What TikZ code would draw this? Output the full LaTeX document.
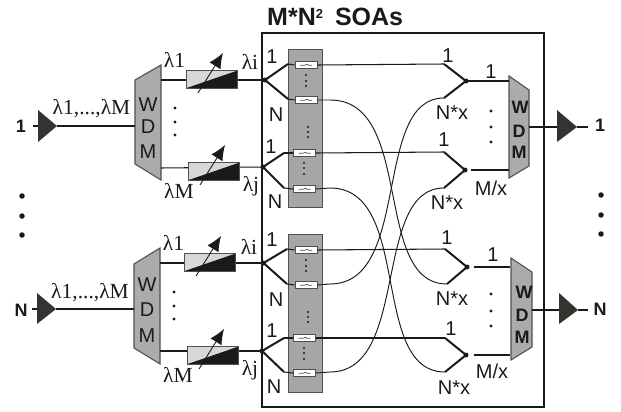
\documentclass[tikz,border=0pt]{standalone}
\usepackage{fontspec}
\setmainfont{Liberation Sans}
\newfontfamily\serifgr{Liberation Serif}
\definecolor{panelgray}{HTML}{A6A6A6}
\definecolor{wdmgray}{HTML}{ABABAB}
\definecolor{edgegray}{HTML}{505050}
\definecolor{ampdark}{HTML}{333330}
\definecolor{soalight}{HTML}{D8D8D8}
\definecolor{inkblack}{HTML}{1A1A1A}
\newcommand{\lam}[1]{{\serifgr\fontsize{21.5}{21.5}\selectfont λ#1}}
\newcommand{\soaunit}[4]{% name, x left, y top, y line
  \node[soabox,anchor=north west] (#1) at (#2,#3) {};
  \draw[tunearrow] (#2+12,#3+23) -- (#2+37,#3-17);
}
\usetikzlibrary{arrows.meta}
\tikzset{
  lbl/.style={inner sep=0pt,font=\fontsize{20}{20}\selectfont,text=inkblack},
  boldlbl/.style={inner sep=0pt,font=\fontsize{18}{18}\selectfont\bfseries,text=inkblack},
  wdmtxt/.style={inner sep=0pt,font=\fontsize{20}{20}\selectfont,text=inkblack},
  wdmbold/.style={inner sep=0pt,font=\fontsize{18}{18}\selectfont\bfseries,text=inkblack},
  panel/.style={fill=panelgray,draw=edgegray,line width=0.9pt},
  wdm/.style={fill=wdmgray,draw=edgegray,line width=1.1pt},
  amp/.style={fill=ampdark},
  thin line/.style={line width=1.05pt,draw=inkblack},
  thick line/.style={line width=2.2pt,draw=inkblack},
  branch/.style={line width=2pt,draw=inkblack},
  cross/.style={line width=0.95pt,draw=inkblack},
  soabox/.style={draw=edgegray,line width=1.1pt,minimum width=51pt,minimum height=17.5pt,inner sep=0pt,fill=soalight,
    path picture={\fill[inkblack] (path picture bounding box.south west)--(path picture bounding box.north east)--(path picture bounding box.south east)--cycle;}},
  tunearrow/.style={line width=0.9pt,draw=inkblack,-{Latex[length=15pt,width=13pt]}},
  swbox/.style={draw=edgegray,line width=1pt,fill=white,minimum width=22pt,minimum height=7pt,inner sep=0pt,
    path picture={\draw[line width=0.7pt,shift={(path picture bounding box.center)}] (-6,0.3)--(-1.5,0.3)--(1,-0.8)--(2.5,0.3)--(6,0.3);}},
  dotm/.style={circle,fill=inkblack,inner sep=0pt,minimum size=3.2pt},
  dots/.style={circle,fill=inkblack,inner sep=0pt,minimum size=2.4pt},
  dotb/.style={circle,fill=inkblack,inner sep=0pt,minimum size=5.5pt},
  hub/.style={circle,fill=inkblack,inner sep=0pt,minimum size=5pt},
}
\begin{document}
\begin{tikzpicture}[x=1pt,y=-1pt]
\useasboundingbox (0,0) rectangle (621,412);
% main box
\draw[line width=1.2pt,draw=inkblack] (262,33) rectangle (544,407);
\node[inner sep=0pt,anchor=base west,font=\fontsize{25}{25}\selectfont\bfseries,text=inkblack] (title) at (267,26) {M*N\raisebox{7pt}{\fontsize{13}{13}\selectfont 2}\hspace{12pt}SOAs};
% panels
\draw[panel] (288,49) rectangle (322,207);
\draw[panel] (288,234) rectangle (322,392);
% WDM left
\draw[wdm] (135,80)--(161,65)--(161,180)--(135,164)--cycle;
\draw[wdm] (134,264)--(160,248)--(160,364)--(134,348)--cycle;
% WDM right
\draw[wdm] (509,76)--(529,90)--(529,166)--(509,178)--cycle;
\draw[wdm] (511,258)--(532,272)--(532,347)--(511,360)--cycle;
\node[wdmtxt] (wa1) at (148,105) {W};\node[wdmtxt] (wa2) at (148,127) {D};\node[wdmtxt] (wa3) at (148,152) {M};
\node[wdmtxt] (wb1) at (147,285) {W};\node[wdmtxt] (wb2) at (147,310) {D};\node[wdmtxt] (wb3) at (147,336) {M};
\node[wdmbold] (wc1) at (520,107) {W};\node[wdmbold] (wc2) at (519,131) {D};\node[wdmbold] (wc3) at (519,152) {M};
\node[wdmbold] (wd1) at (524,292) {W};\node[wdmbold] (wd2) at (522,315) {D};\node[wdmbold] (wd3) at (522,337) {M};
% named points: WDM ports
\coordinate (wlA) at (135,126);\coordinate (wlB) at (134,309);
\coordinate (wrA) at (529,127);\coordinate (wrB) at (532,310);
\coordinate (oa1) at (161,80);\coordinate (oa2) at (161,168);
\coordinate (ob1) at (160,263);\coordinate (ob2) at (160,351);
% amplifiers
\coordinate (ia) at (33,126);\coordinate (ta) at (38,126);\coordinate (pa) at (57,126);
\coordinate (ib) at (32,309);\coordinate (tb) at (37,309);\coordinate (pb) at (56,309);
\coordinate (tc) at (557,127);\coordinate (pc) at (577,127);\coordinate (ec) at (588,127);
\coordinate (td) at (559,310);\coordinate (pd) at (578,310);\coordinate (ed) at (588,310);
\draw[line width=1.4pt,draw=inkblack] (ia)--(ta);\draw[line width=1.4pt,draw=inkblack] (ib)--(tb);
\draw[line width=1.4pt,draw=inkblack] (pc)--(ec);\draw[line width=1.4pt,draw=inkblack] (pd)--(ed);
\draw[thick line] (pa)--(wlA);\draw[thick line] (pb)--(wlB);
\draw[thick line] (wrA)--(tc);\draw[thick line] (wrB)--(td);
\fill[amp] (38,110)--(57,126)--(38,142)--cycle;
\fill[amp] (37,293)--(56,309)--(37,324)--cycle;
\fill[amp] (557,110)--(577,127)--(557,142)--cycle;
\fill[amp] (559,293)--(578,310)--(559,324)--cycle;
% SOAs
\coordinate (ha) at (265,80);\coordinate (hb) at (263,167);\coordinate (hc) at (263.5,263);\coordinate (hd) at (262,351);
\draw[thin line] (oa1)--(ha);\draw[thin line] (oa2)--(hb);\draw[thin line] (ob1)--(hc);\draw[thin line] (ob2)--(hd);
\soaunit{soaa}{186}{70}{80}
\soaunit{soab}{188}{162}{168}
\soaunit{soac}{184}{253}{263}
\soaunit{soad}{187}{346}{351}
\node[hub] at (ha) {};\node[hub] at (hb) {};\node[hub] at (hc) {};\node[hub] at (hd) {};
% switches
\node[swbox] (s1) at (306,65) {};\node[swbox] (s2) at (306,100) {};
\node[swbox] (s3) at (304.5,153) {};\node[swbox] (s4) at (304.5,189) {};
\node[swbox] (s5) at (306,250) {};\node[swbox] (s6) at (306,285) {};
\node[swbox] (s7) at (304.5,338) {};\node[swbox] (s8) at (304.5,373) {};
% splitter branches
\coordinate (b1) at (288,64);\coordinate (b2) at (288,99);
\coordinate (b3) at (284,153);\coordinate (b4) at (284,188);
\coordinate (b5) at (287,249);\coordinate (b6) at (287,284);
\coordinate (b7) at (284,338);\coordinate (b8) at (284,372);
\draw[branch] (b1)--(ha)--(b2);
\draw[branch] (b3)--(hb)--(b4);
\draw[branch] (b5)--(hc)--(b6);
\draw[branch] (b7)--(hd)--(b8);
\draw[thin line] (b1)--(s1.west);\draw[thin line] (b2)--(s2.west);
\draw[thin line] (b3)--(s3.west);\draw[thin line] (b4)--(s4.west);
\draw[thin line] (b5)--(s5.west);\draw[thin line] (b6)--(s6.west);
\draw[thin line] (b7)--(s7.west);\draw[thin line] (b8)--(s8.west);
% combiners
\coordinate (c1a) at (444,64);\coordinate (c1b) at (444,98);\coordinate (c1) at (466,81);
\coordinate (c2a) at (444,152);\coordinate (c2b) at (444,188);\coordinate (c2) at (465,170);
\coordinate (c3a) at (445,249);\coordinate (c3b) at (447,284);\coordinate (c3) at (467,267);
\coordinate (c4a) at (445,338);\coordinate (c4b) at (445,372);\coordinate (c4) at (466,355);
\coordinate (w1) at (509,81);\coordinate (w2) at (509,170);\coordinate (w3) at (510,267);\coordinate (w4) at (510,355);
\coordinate (g2) at (471,170);\coordinate (g3) at (474,267);\coordinate (g4) at (474,355);
\draw[branch] (c1a)--(c1)--(c1b);\draw[branch] (c2a)--(c2)--(c2b);
\draw[branch] (c3a)--(c3)--(c3b);\draw[branch] (c4a)--(c4)--(c4b);
\node[hub] at (c1) {};\node[hub] at (c2) {};\node[hub] at (c3) {};\node[hub] at (c4) {};
\draw[thin line] (c1)--(w1);
\draw[thin line] (g2)--(w2);
\draw[thin line] (g3)--(w3);
\draw[thin line] (g4)--(w4);
% straight links
\draw[thin line] (s1.east)--(c1a);\draw[thin line] (s3.east)--(c2a);
\draw[thin line] (s5.east)--(c3a);\draw[thin line] (s7.east)--(c4a);
% crossing links
\draw[cross] (s2.east)--(330,100) .. controls (415,100) and (372,284) .. (c3b);
\draw[cross] (s4.east)--(330,188) .. controls (413,188) and (369,372) .. (c4b);
\draw[cross] (s6.east)--(330,284) .. controls (412,284) and (372,98) .. (c1b);
\draw[cross] (s8.east)--(330,372) .. controls (410,372) and (372,188) .. (c2b);
% panel dots
\foreach \x/\a/\b/\c in {306/75/81/86,308/127/132/137,304/163/168/174,306/260/266/271,308/312/317/322,304/348/353/359}{
  \node[dots] at (\x,\a) {};\node[dots] at (\x,\b) {};\node[dots] at (\x,\c) {};}
% medium dots
\foreach \x/\a/\b/\c in {175/108/122/135,174/292/306/319,491/111/127/142,491/294/311/326}{
  \node[dotm] at (\x,\a) {};\node[dotm] at (\x,\b) {};\node[dotm] at (\x,\c) {};}
% big dots
\foreach \x/\a/\b/\c in {22/196/216/235,601/195/215/234}{
  \node[dotb] at (\x,\a) {};\node[dotb] at (\x,\b) {};\node[dotb] at (\x,\c) {};}
% side labels
\node[boldlbl] (in1) at (21,126) {1};\node[boldlbl] (inN) at (21,310) {N};
\node[boldlbl] (out1) at (600,125) {1};\node[boldlbl] (outN) at (600,309) {N};
% lambda labels
\node[lbl] at (174.5,60) {\lam{1}};
\node[lbl] at (91.5,109) {\lam{1,...,}\lam{M}};
\node[lbl] at (250,62) {\lam{i}};
\node[lbl] at (179,191) {\lam{M}};
\node[lbl] at (251,186) {\lam{j}};
\node[lbl] at (173.5,243) {\lam{1}};
\node[lbl] at (90,293) {\lam{1,...,}\lam{M}};
\node[lbl] at (249,247) {\lam{i}};
\node[lbl] at (178,375) {\lam{M}};
\node[lbl] at (250,370) {\lam{j}};
% 1/N labels
\foreach \x/\y/\t in {272/57/1,276/115/N,271/147/1,275/202/N,272/240/1,276/300/N,272/331/1,274/387/N,
  448/56/1,452/113/N*x,491/72/1,444/140/1,447/203/N*x,491/188/M\slash x,
  447/238/1,452/299/N*x,493/255/1,451/329/1,454/388/N*x,492/371/M\slash x}{
  \node[lbl] at (\x,\y) {\t};}
\end{tikzpicture}
\end{document}
